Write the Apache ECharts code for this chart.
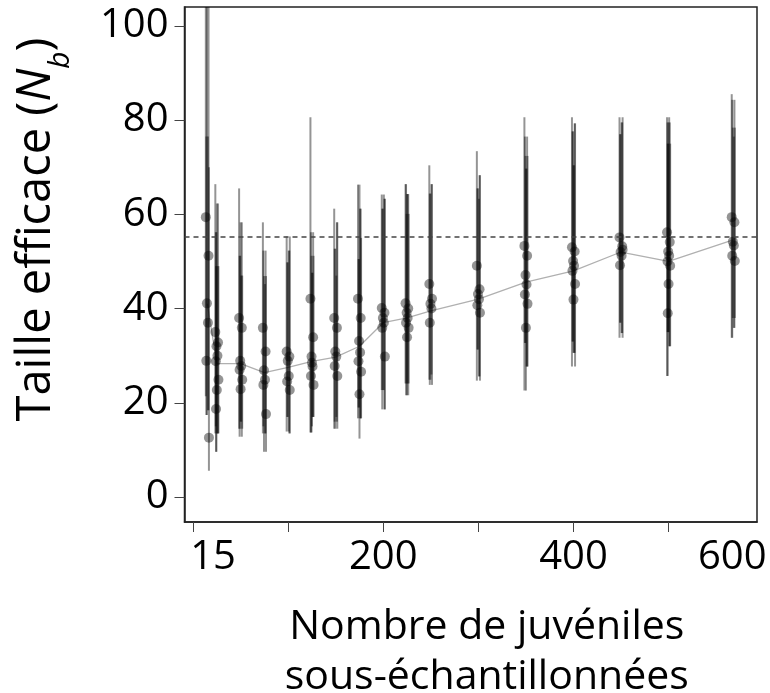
<!DOCTYPE html>
<html>
<head>
<meta charset="utf-8">
<script src="https://cdn.jsdelivr.net/npm/echarts@6/dist/echarts.min.js"></script>
<style>html,body{margin:0;padding:0;background:#fff;}#c{width:770px;height:693px;}</style>
</head>
<body>
<div id="c"></div>
<script>
// Sub-sample sizes (number of juveniles)
const xValues = [15, 25, 50, 75, 100, 125, 150, 175, 200, 225, 250, 300, 350, 400, 450, 500, 568];
// Mean Nb per sub-sample size (grey line)
const meanNb = [41, 28.3, 28.3, 26.4, 27.5, 28.8, 29.7, 32, 37, 38, 39.5, 42, 45.6, 48, 52, 50, 54.6];
// Replicate point estimates
const pointsNb = [
  [59.4, 51.2, 41.1, 37, 28.9, 12.6],
  [35, 32.8, 32, 30, 28.8, 24.9, 22.7, 18.7],
  [38, 35.9, 28.9, 27.8, 27, 24.9, 22.9],
  [35.9, 30.9, 26.9, 24.9, 23.8, 17.6],
  [30.9, 29.8, 28.9, 25.7, 24.5, 22.7],
  [42.1, 33.9, 29.8, 27.7, 25.7, 23.8, 28.5],
  [38, 35.9, 30.9, 29.8, 27.8, 25.7],
  [42.1, 38, 33.1, 30.7, 28.8, 26.6, 21.8],
  [40.1, 39.1, 38, 37, 35.9, 29.8],
  [41.1, 40, 39.1, 38, 37, 35.9, 33.9],
  [45.2, 42.1, 41, 40, 37],
  [49.1, 44.1, 43.1, 42, 40.7, 39.1],
  [53.3, 51.2, 47.1, 45.1, 43, 41, 35.9],
  [53, 52.1, 50.1, 49.1, 48, 45.2, 41.9],
  [55.1, 53.2, 52, 51.2, 49.2, 52.5],
  [56.2, 54.1, 52.1, 51.2, 50, 49.1, 45.2, 39],
  [59.4, 58.3, 54.2, 53.4, 51.2, 50.1]
];
// Replicate confidence interval lower bounds
const lowNb = [
  [21.4, 18.4, 17.4, 18.4, 17.4, 5.6],
  [13.5, 13.5, 9.6, 13.5, 15, 13.5, 13.5, 9.6],
  [14.5, 12.8, 14.5, 16, 12.8, 14.5, 16],
  [13.5, 13.5, 9.6, 13.5, 15, 9.6],
  [13.9, 13.5, 17, 13.9, 17, 13.5],
  [13.7, 17, 13.7, 17, 13.7, 17, 15],
  [14.5, 16, 14.5, 17, 16, 14.5],
  [16.7, 16.7, 19, 16.7, 19, 16.7, 12.4],
  [22.7, 18.6, 22.7, 22.7, 18.6, 18.6],
  [24.1, 21.6, 24.1, 24.1, 21.6, 24.1, 21.6],
  [24.9, 23.8, 24.9, 26, 23.8],
  [24.7, 25.6, 31.3, 25.6, 31.3, 24.7],
  [22.6, 27.7, 32.7, 27.7, 32.7, 27.7, 22.6],
  [27.7, 30.6, 33, 30.6, 33, 27.7, 30.6],
  [33.8, 34.8, 37, 34.8, 37, 33.8],
  [25.7, 32, 35, 32, 35, 32, 35, 25.7],
  [33.8, 35.9, 38, 35.9, 33.8, 38]
];
// Replicate confidence interval upper bounds
const highNb = [
  [110, 110, 110, 76.5, 76.5, 70],
  [66.4, 62.3, 56.2, 49, 56.2, 49, 62.3, 49],
  [65.5, 58.3, 51.2, 47, 51.2, 47, 58.3],
  [58.3, 52.3, 46.9, 45.2, 52.3, 46.9],
  [55.3, 52.3, 49.8, 52.3, 49.8, 55.3],
  [80.6, 56.2, 51.2, 47.6, 56.2, 51.2, 47.6],
  [61.2, 58.3, 52.7, 47, 52.7, 58.3],
  [66.3, 61.2, 50.5, 61.2, 50.5, 55, 66.3],
  [64.2, 63.3, 61.2, 64.2, 61.2, 63.3],
  [66.4, 64.3, 60.1, 64.3, 66.4, 60.1, 64.3],
  [70.4, 66.4, 64.4, 66.4, 64.4],
  [73.4, 68.3, 65.5, 63.3, 65.5, 68.3],
  [80.6, 76.5, 72.4, 69.7, 76.5, 72.4, 69.7],
  [80.6, 79.3, 77.6, 70.4, 77.6, 79.3, 70.4],
  [80.6, 79.5, 77, 79.5, 77, 80.6],
  [80.6, 79.5, 75, 80.6, 79.5, 75, 79.5, 75],
  [85.5, 84.3, 78.4, 76.5, 84.3, 78.4]
];
// Reference Nb (dashed line)
const refNb = 55.2;
// Axis ticks and labels
const xTickValues = [0, 100, 200, 300, 400, 500];
const xLabelValues = [21, 200, 400, 567];
const xLabelTexts = ['15', '200', '400', '600'];
const yTickValues = [0, 20, 40, 60, 80, 100];

const jitter = [-1.5, 1.2, -0.4, 0.6, -1.0, 1.6, 0.0, -0.8];

const repData = [];
xValues.forEach((x, i) => {
  pointsNb[i].forEach((p, k) => {
    repData.push([x, lowNb[i][k], highNb[i][k], p, k]);
  });
});

const chart = echarts.init(document.getElementById('c'));
const font = 'Open Sans';
chart.setOption({
  animation: false,
  grid: { left: 184.5, right: 13, top: 7, bottom: 171, show: true, borderColor: '#222', borderWidth: 1.5,
          backgroundColor: 'transparent', outerBoundsMode: 'none', containLabel: false },
  xAxis: {
    type: 'value', min: -9, max: 593,
    splitLine: { show: false },
    axisLine: { show: true, onZero: false, lineStyle: { color: '#222', width: 1.5 } },
    axisTick: { show: true, length: 10, customValues: xTickValues, lineStyle: { color: '#444', width: 1 } },
    axisLabel: {
      customValues: xLabelValues, margin: 16,
      formatter: v => { const i = xLabelValues.indexOf(v); return i >= 0 ? xLabelTexts[i] : ''; },
      fontFamily: font, fontSize: 40, color: '#000'
    },
    name: 'Nombre de juvéniles\nsous-échantillonnées',
    nameLocation: 'middle', nameGap: 80,
    nameTextStyle: { fontFamily: font, fontSize: 41, color: '#000', lineHeight: 50, padding: [0, 0, 0, 32], verticalAlign: 'top' }
  },
  yAxis: {
    type: 'value', min: -5.3, max: 104,
    splitLine: { show: false },
    axisLine: { show: true, onZero: false, lineStyle: { color: '#222', width: 1.5 } },
    axisTick: { show: true, length: 10, customValues: yTickValues, lineStyle: { color: '#444', width: 1 } },
    axisLabel: { customValues: yTickValues, margin: 16, fontFamily: font, fontSize: 40, color: '#000' },
    name: '{t|Taille efficace (}{i|N}{s|b}{t|)}',
    nameLocation: 'middle', nameGap: 124,
    nameTextStyle: {
      fontFamily: font, fontSize: 47, color: '#000', padding: [0, 0, 0, 70],
      rich: {
        t: { fontFamily: font, fontSize: 47, color: '#000' },
        i: { fontFamily: font, fontSize: 47, fontStyle: 'italic', color: '#000' },
        s: { fontFamily: font, fontSize: 30, fontStyle: 'italic', color: '#000', verticalAlign: 'bottom', padding: [0, 0, -15, 0] }
      }
    }
  },
  series: [
    {
      type: 'line', data: xValues.map((x, i) => [x, meanNb[i]]),
      symbol: 'none', z: 1, lineStyle: { color: '#b0b0b0', width: 1.3 },
      markLine: {
        silent: true, symbol: 'none', label: { show: false },
        lineStyle: { color: '#444', type: [5, 4], width: 1.6 },
        data: [{ yAxis: refNb }]
      }
    },
    {
      type: 'custom', z: 2, clip: true, data: repData,
      renderItem: (params, api) => {
        const x = api.value(0), k = api.value(4);
        const a = api.coord([x, api.value(1)]), b = api.coord([x, api.value(2)]);
        const off = jitter[k % jitter.length];
        return { type: 'line', shape: { x1: a[0] + off, y1: a[1], x2: b[0] + off, y2: b[1] },
          style: { stroke: 'rgba(0,0,0,0.42)', lineWidth: 2 } };
      }
    },
    {
      type: 'custom', z: 3, clip: true, data: repData,
      renderItem: (params, api) => {
        const x = api.value(0), k = api.value(4);
        const c = api.coord([x, api.value(3)]);
        const off = jitter[k % jitter.length];
        return { type: 'circle', shape: { cx: c[0] + off, cy: c[1], r: 5 },
          style: { fill: 'rgba(0,0,0,0.42)' } };
      }
    }
  ]
});
</script>
</body>
</html>
